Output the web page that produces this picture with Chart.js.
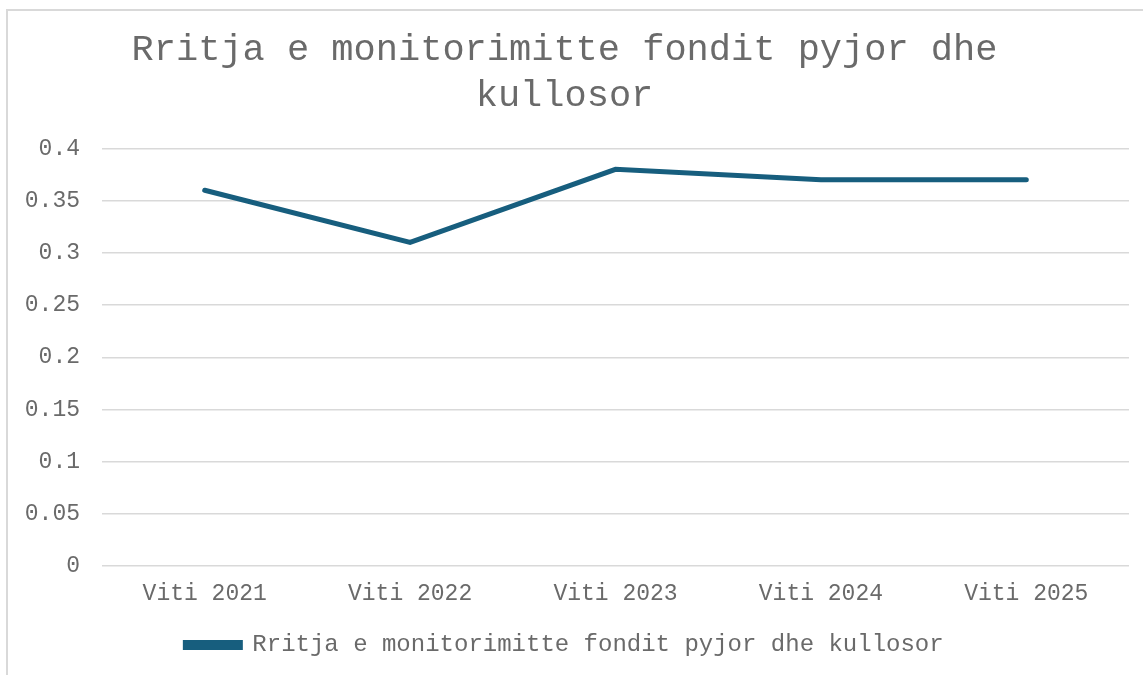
<!DOCTYPE html>
<html>
<head>
<meta charset="utf-8">
<script src="https://cdn.jsdelivr.net/npm/chart.js@4"></script>
<style>
  html, body { margin: 0; padding: 0; background: #fff; }
  #wrap { width: 1143px; height: 675px; }
</style>
</head>
<body>
<div id="wrap"><canvas id="chart" width="1143" height="675"></canvas></div>
<script>
// ===============================
// DATOS
// ===============================
const categories = ["Viti 2021", "Viti 2022", "Viti 2023", "Viti 2024", "Viti 2025"];
const values = [0.36, 0.31, 0.38, 0.37, 0.37];
const seriesName = "Rritja e monitorimitte fondit pyjor dhe kullosor";
const titleLines = ["Rritja e monitorimitte fondit pyjor dhe", "kullosor"];
const yTickLabels = ["0", "0.05", "0.1", "0.15", "0.2", "0.25", "0.3", "0.35", "0.4"];

const FONT = "'Liberation Mono', 'Courier New', monospace";
const TEXT = "#6a6a6a";
const LINE = "#175e7e";

// marco gris arriba y a la izquierda
const framePlugin = {
  id: "frame",
  beforeDraw(chart) {
    const ctx = chart.ctx;
    ctx.save();
    ctx.strokeStyle = "#d9d9d9";
    ctx.lineWidth = 2;
    ctx.beginPath();
    ctx.moveTo(7, 675);
    ctx.lineTo(7, 10);
    ctx.lineTo(1143, 10);
    ctx.stroke();
    ctx.restore();
  }
};

new Chart(document.getElementById("chart"), {
  type: "line",
  data: {
    labels: categories,
    datasets: [{
      label: seriesName,
      data: values,
      borderColor: LINE,
      backgroundColor: LINE,
      borderWidth: 5,
      borderCapStyle: "round",
      pointRadius: 0,
      tension: 0
    }]
  },
  plugins: [framePlugin],
  options: {
    responsive: false,
    animation: false,
    layout: { padding: { top: 10, right: 14, bottom: 8, left: 0 } },
    plugins: {
      title: {
        display: true,
        text: titleLines,
        color: TEXT,
        font: { family: FONT, size: 37, weight: "normal", lineHeight: 1.25 },
        padding: { top: 17, bottom: 29 }
      },
      legend: {
        position: "bottom",
        labels: {
          color: TEXT,
          font: { family: FONT, size: 24 },
          boxWidth: 55,
          boxHeight: 5,
          padding: 14
        }
      },
      tooltip: { enabled: false }
    },
    scales: {
      x: {
        offset: true,
        afterFit: s => { s.height = 53; },
        grid: { display: false },
        border: { display: false },
        ticks: { color: TEXT, font: { family: FONT, size: 23 }, padding: 6 }
      },
      y: {
        min: 0,
        max: 0.4,
        afterFit: s => { s.width = 102; },
        grid: { color: "#d9d9d9", lineWidth: 1.5, drawTicks: false },
        border: { display: false },
        ticks: {
          stepSize: 0.05,
          color: TEXT,
          font: { family: FONT, size: 23 },
          padding: 22,
          callback: (v, i) => yTickLabels[i]
        }
      }
    }
  }
});
</script>
</body>
</html>
